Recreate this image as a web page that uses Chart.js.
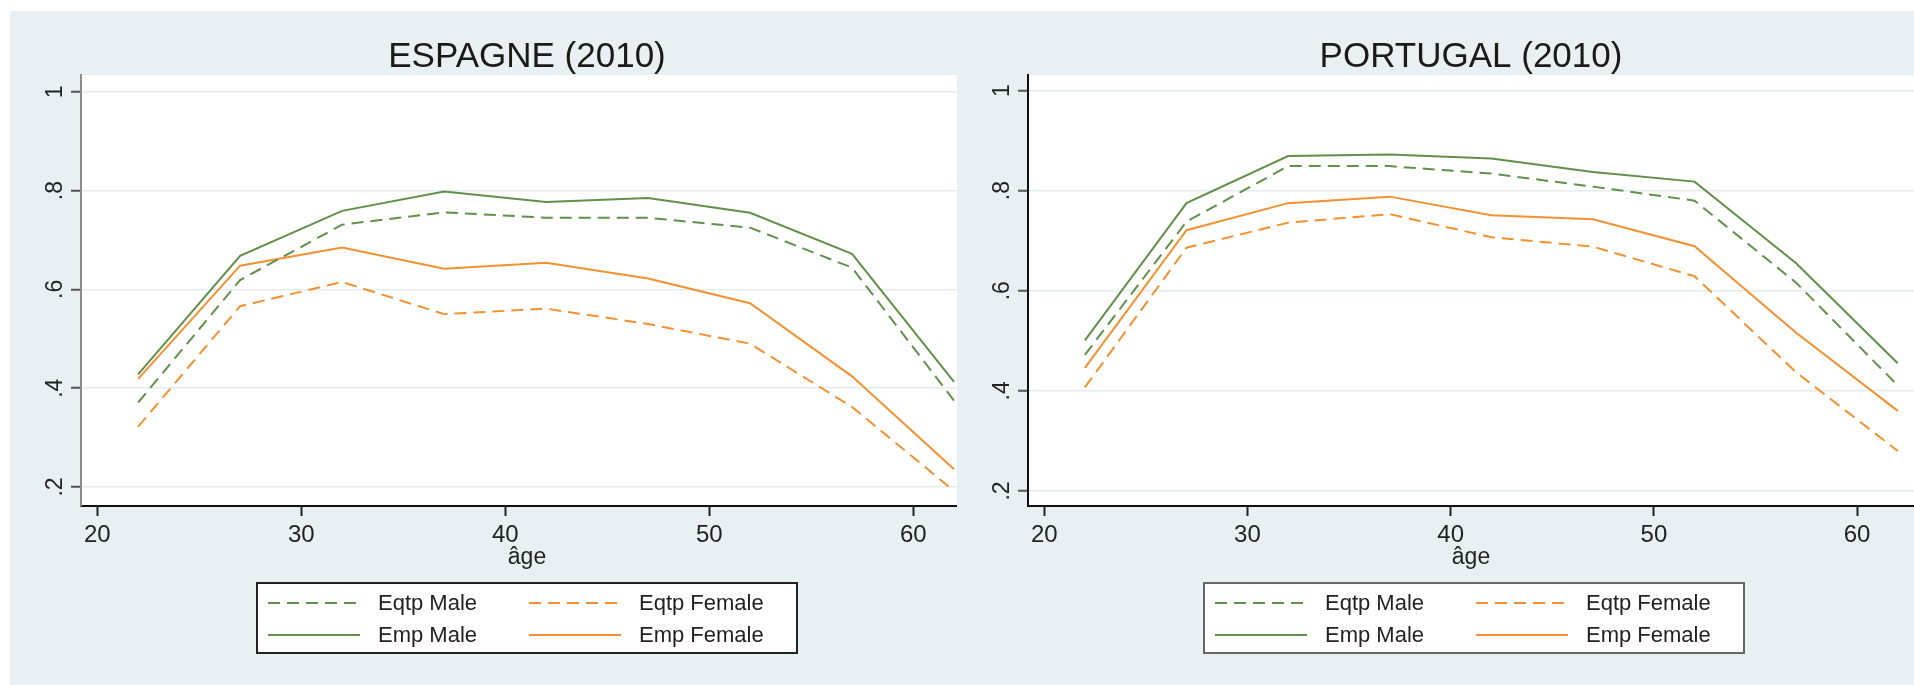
<!DOCTYPE html>
<html>
<head>
<meta charset="utf-8">
<script src="https://cdn.jsdelivr.net/npm/chart.js@4.4.1/dist/chart.umd.min.js"></script>
<style>
  html, body { margin: 0; padding: 0; background: #fff; overflow: hidden; width: 1914px; height: 685px; }
  #bg { position: absolute; left: 10px; top: 11px; right: 0; bottom: 0; background: #e8f0f3; }
  canvas { position: absolute; top: 11px; }
  #esp { left: 10px; }
  #por { left: 957px; }
</style>
</head>
<body>
<div id="bg"></div>
<canvas id="esp" width="1034" height="674"></canvas>
<canvas id="por" width="1034" height="674"></canvas>
<script>
// ages (x) and shares
const ages = [22, 27, 32, 37, 42, 47, 52, 57, 62];

const espEqtpMale   = [0.371, 0.619, 0.731, 0.756, 0.745, 0.745, 0.725, 0.644, 0.375];
const espEqtpFemale = [0.322, 0.566, 0.615, 0.550, 0.561, 0.530, 0.490, 0.362, 0.192];
const espEmpMale    = [0.428, 0.668, 0.759, 0.798, 0.777, 0.785, 0.755, 0.672, 0.413];
const espEmpFemale  = [0.419, 0.648, 0.685, 0.642, 0.654, 0.622, 0.572, 0.424, 0.236];

const porEqtpMale   = [0.472, 0.738, 0.849, 0.849, 0.834, 0.808, 0.780, 0.616, 0.411];
const porEqtpFemale = [0.407, 0.686, 0.736, 0.753, 0.707, 0.688, 0.629, 0.437, 0.280];
const porEmpMale    = [0.501, 0.775, 0.869, 0.872, 0.864, 0.837, 0.818, 0.655, 0.455];
const porEmpFemale  = [0.446, 0.721, 0.775, 0.788, 0.751, 0.743, 0.689, 0.516, 0.360];

const seriesNames = ['Eqtp Male', 'Eqtp Female', 'Emp Male', 'Emp Female'];
const xTicks = [20, 30, 40, 50, 60];
const yTicks = [0.2, 0.4, 0.6, 0.8, 1];
const yTickLabels = ['.2', '.4', '.6', '.8', '1'];

const green = '#62904a';
const orange = '#f39130';
const BG = '#e8f0f3';
const FONT = '"Liberation Sans", Arial, sans-serif';

Chart.defaults.font.family = FONT;
Chart.defaults.color = '#222';

// white plot region, rotated y labels (Stata style) and the boxed legend
const panelPlugin = {
    id: 'panel',
    beforeDraw(chart, args, opts) {
        const { ctx, chartArea: a } = chart;
        ctx.save();
        if (opts.fillBg) {
            ctx.fillStyle = BG;
            ctx.fillRect(0, 0, chart.width, chart.height);
        }
        ctx.fillStyle = '#fff';
        ctx.fillRect(a.left, a.top, a.right - a.left, a.bottom - a.top);
        ctx.restore();
    },
    afterDraw(chart, args, opts) {
        const { ctx, chartArea: a } = chart;
        const y = chart.scales.y;
        ctx.save();
        ctx.fillStyle = '#222';
        ctx.font = '23px ' + FONT;
        ctx.textAlign = 'center';
        ctx.textBaseline = 'alphabetic';
        yTicks.forEach((v, i) => {
            ctx.save();
            ctx.translate(a.left - 19, y.getPixelForValue(v));
            ctx.rotate(-Math.PI / 2);
            ctx.fillText(yTickLabels[i], 0, 0);
            ctx.restore();
        });

        const bw = 540, bh = 70;
        const bx = opts.cx - bw / 2, by = 572;
        ctx.fillStyle = '#fff';
        ctx.fillRect(bx, by, bw, bh);
        ctx.strokeStyle = opts.frame;
        ctx.lineWidth = 2;
        ctx.strokeRect(bx, by, bw, bh);

        chart.data.datasets.forEach((ds, i) => {
            const col = i % 2, row = Math.floor(i / 2);
            const x0 = bx + (col ? 272 : 11);
            const yy = by + 20 + row * 32;
            ctx.strokeStyle = ds.borderColor;
            ctx.lineWidth = ds.borderWidth;
            ctx.setLineDash(ds.borderDash || []);
            ctx.beginPath();
            ctx.moveTo(x0, yy);
            ctx.lineTo(x0 + 92, yy);
            ctx.stroke();
            ctx.setLineDash([]);
            ctx.fillStyle = '#222';
            ctx.font = '22px ' + FONT;
            ctx.textAlign = 'left';
            ctx.textBaseline = 'middle';
            ctx.fillText(ds.label, x0 + 110, yy + 1);
        });
        ctx.restore();
    }
};

function makeSet(label, values, color, dashed) {
    return {
        label: label,
        data: ages.map((a, i) => ({ x: a, y: values[i] })),
        borderColor: color,
        backgroundColor: color,
        borderWidth: 2,
        borderDash: dashed ? [12, 7] : [],
        pointRadius: 0,
        tension: 0,
        fill: false
    };
}

function makeChart(id, title, sets, p) {
    new Chart(document.getElementById(id), {
        type: 'line',
        data: {
            datasets: [
                makeSet(seriesNames[0], sets[0], green, true),
                makeSet(seriesNames[1], sets[1], orange, true),
                makeSet(seriesNames[2], sets[2], green, false),
                makeSet(seriesNames[3], sets[3], orange, false)
            ]
        },
        options: {
            responsive: false,
            animation: false,
            layout: { padding: { top: 0, left: 0, right: p.padRight, bottom: 109 } },
            scales: {
                x: {
                    type: 'linear',
                    min: 19.2,
                    max: p.xMax,
                    afterBuildTicks: s => { s.ticks = xTicks.map(v => ({ value: v })); },
                    afterFit: s => { s.height = 70; },
                    grid: { drawOnChartArea: false, drawTicks: true, tickLength: 10, tickColor: '#222', tickWidth: 2 },
                    border: { color: '#111', width: 2 },
                    ticks: { color: '#222', font: { size: 24 }, padding: 5, maxRotation: 0, autoSkip: false },
                    title: { display: true, text: 'âge', color: '#222', font: { size: 23 }, padding: { top: 0, bottom: 5 } }
                },
                y: {
                    type: 'linear',
                    min: p.yMin,
                    max: p.yMax,
                    afterBuildTicks: s => { s.ticks = yTicks.map(v => ({ value: v })); },
                    afterFit: s => { s.width = 71; },
                    grid: { color: '#e3ecef', lineWidth: 1.5, tickLength: 10, tickColor: '#555', tickWidth: 2 },
                    border: { color: p.axisColor, width: 2 },
                    ticks: { display: false }
                }
            },
            plugins: {
                title: {
                    display: true,
                    fullSize: false,
                    text: title,
                    color: '#1a1a1a',
                    font: { size: 35, weight: 'normal', lineHeight: 1 },
                    padding: { top: 29, bottom: 0 }
                },
                legend: { display: false },
                tooltip: { enabled: false },
                panel: { cx: 517, frame: p.frame, fillBg: p.fillBg }
            }
        },
        plugins: [panelPlugin]
    });
}

// the Spanish panel runs on under the Portuguese one, which covers its right end
makeChart('esp', 'ESPAGNE (2010)',
    [espEqtpMale, espEqtpFemale, espEmpMale, espEmpFemale],
    { xMax: 62.93, yMin: 0.1615, yMax: 1.034, padRight: 71, axisColor: '#8c8c8c', frame: '#222', fillBg: false });

makeChart('por', 'PORTUGAL (2010)',
    [porEqtpMale, porEqtpFemale, porEmpMale, porEmpFemale],
    { xMax: 62.8, yMin: 0.17, yMax: 1.031, padRight: 77, axisColor: '#111', frame: '#666', fillBg: true });
</script>
</body>
</html>
